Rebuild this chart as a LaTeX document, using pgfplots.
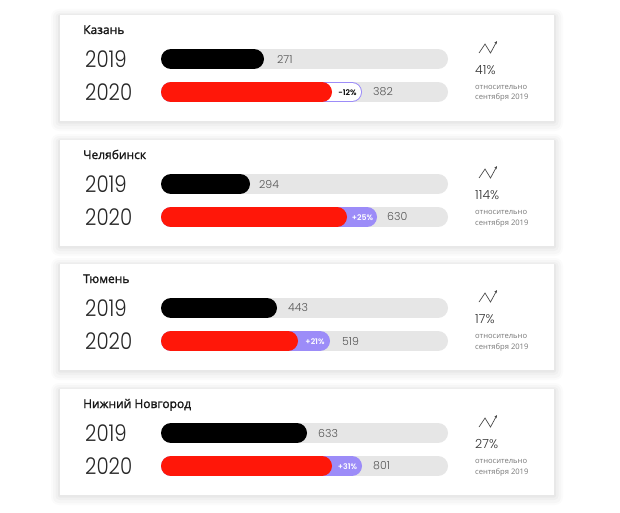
\documentclass[border=0pt]{standalone}
\usepackage{pgfplots}
\pgfplotsset{compat=1.18}
\usetikzlibrary{arrows.meta}
\usepackage{fontspec}
\setmainfont{Open Sans}
\newfontfamily\titlef{Open Sans}[FakeBold=1.6]
\newfontfamily\popl{Poppins Light}
\newfontfamily\popy{Poppins Light}[FakeStretch=0.86]
\newfontfamily\popb{Poppins SemiBold}

\definecolor{redbar}{HTML}{FF1709}
\definecolor{lav}{HTML}{9C8CF8}
\definecolor{track}{HTML}{E6E6E6}
\definecolor{valgray}{HTML}{555555}
\definecolor{notegray}{HTML}{777777}

% card with a soft shadow, #1 = top edge in pixels
\newcommand\card[1]{%
  \fill[black,opacity=0.015,rounded corners=8bp] (axis cs:51,#1-6) rectangle (axis cs:563,#1+116);
  \fill[black,opacity=0.02,rounded corners=6bp] (axis cs:53,#1-4) rectangle (axis cs:561,#1+114);
  \fill[black,opacity=0.025,rounded corners=4bp] (axis cs:55.5,#1-2) rectangle (axis cs:558.5,#1+111);
  \fill[black,opacity=0.03,rounded corners=2bp] (axis cs:58,#1-0.5) rectangle (axis cs:556,#1+108.5);
  \fill[white] (axis cs:60,#1) rectangle (axis cs:554,#1+106);
}
% city name, right-hand note; #1 top, #2 name, #3 percent
\newcommand\cardtext[3]{%
  \node[anchor=base west,inner sep=0pt,font=\titlef\fontsize{12bp}{14bp}\selectfont,text=black!90]
    at (axis cs:83,#1+19) {#2};
  \node[anchor=west,inner sep=0pt,font=\popy\fontsize{23bp}{25bp}\selectfont,text=black!85] at (axis cs:85,#1+44) {2019};
  \node[anchor=west,inner sep=0pt,font=\popy\fontsize{23bp}{25bp}\selectfont,text=black!85] at (axis cs:85,#1+77) {2020};
  \draw[black!70,line width=0.7bp,-{Stealth[length=3bp,width=3bp]}]
    (axis cs:479,#1+38) -- (axis cs:485,#1+29) -- (axis cs:490.5,#1+38) -- (axis cs:497,#1+26);
  \node[anchor=west,inner sep=0pt,font=\popl\fontsize{12.5bp}{14bp}\selectfont,text=black!80] at (axis cs:475,#1+55) {#3};
  \node[anchor=west,font=\fontsize{7.6bp}{9bp}\selectfont,text=notegray,inner sep=0pt] at (axis cs:475,#1+72.5) {относительно};
  \node[anchor=west,font=\fontsize{7.6bp}{9bp}\selectfont,text=notegray,inner sep=0pt] at (axis cs:475,#1+83) {сентября 2019};
}

\begin{document}
\begin{tikzpicture}
\begin{axis}[
  width=620bp, height=512bp, scale only axis,
  xmin=0, xmax=620, ymin=0, ymax=512, y dir=reverse,
  hide axis, clip=false, unbounded coords=jump,
  every axis plot/.append style={line width=20bp, line cap=round, mark=none},
]
\path (axis cs:0,0) rectangle (axis cs:620,512);
\card{15}\card{140}\card{264}\card{389}

% grey tracks
\addplot[track] coordinates {
  (171,59) (438,59) (0,nan) (171,92) (438,92) (0,nan)
  (171,184) (438,184) (0,nan) (171,217) (438,217) (0,nan)
  (171,308) (438,308) (0,nan) (171,341) (438,341) (0,nan)
  (171,433) (438,433) (0,nan) (171,466) (438,466)
};
% 2019 bars
\addplot[black] coordinates {
  (171,59) (254,59) (0,nan)
  (171,184) (240,184) (0,nan)
  (171,308) (267,308) (0,nan)
  (171,433) (297,433)
};
% change badges under the 2020 bars
\addplot[lav] coordinates {(171,92) (352,92)};
\addplot[white,line width=18bp] coordinates {(171,92) (352,92)};
\addplot[lav] coordinates {
  (171,217) (367,217) (0,nan)
  (171,341) (320,341) (0,nan)
  (171,466) (352,466)
};
% 2020 bars
\addplot[redbar] coordinates {
  (171,92) (322,92) (0,nan)
  (171,217) (337,217) (0,nan)
  (171,341) (288,341) (0,nan)
  (171,466) (322,466)
};

% values
\begin{scope}[every node/.style={anchor=west,inner sep=0pt,text=valgray,font=\popl\fontsize{11bp}{12bp}\selectfont}]
\node at (axis cs:277,59) {271};  \node at (axis cs:373,92) {382};
\node at (axis cs:259,184) {294}; \node at (axis cs:387,217) {630};
\node at (axis cs:288,308) {443}; \node at (axis cs:342,341) {519};
\node at (axis cs:318,433) {633}; \node at (axis cs:373,466) {801};
\end{scope}
\begin{scope}[every node/.style={inner sep=0pt,font=\popb\fontsize{7.8bp}{8bp}\selectfont}]
\node[text=black] at (axis cs:347.5,92.5) {-12\%};
\node[text=white] at (axis cs:362.5,217.5) {+25\%};
\node[text=white] at (axis cs:315,341.5) {+21\%};
\node[text=white] at (axis cs:347.5,466.5) {+31\%};
\end{scope}

\cardtext{15}{Казань}{41\%}
\cardtext{140}{Челябинск}{114\%}
\cardtext{264}{Тюмень}{17\%}
\cardtext{389}{Нижний Новгород}{27\%}
\end{axis}
\end{tikzpicture}
\end{document}
